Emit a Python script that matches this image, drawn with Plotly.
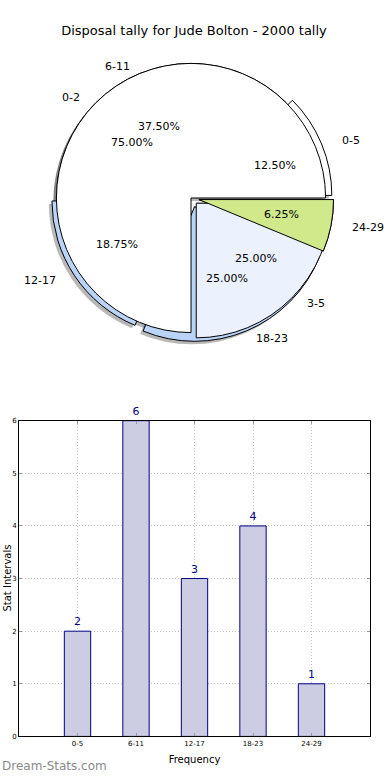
import math
import plotly.graph_objects as go

# ---- data ----
intervals = ["0-5", "6-11", "12-17", "18-23", "24-29"]
counts = [2, 6, 3, 4, 1]
groups = ["0-2", "3-5"]
group_counts = [12, 4]
y_ticks = [0, 1, 2, 3, 4, 5, 6]

title_text = "Disposal tally for Jude Bolton - 2000 tally"

W, H = 390, 780
FONT = "DejaVu Sans"
WHITE = "#ffffff"
BLUE = "#b9d4f7"
LIGHT = "#ebf1fd"
GREEN = "#cfe98b"
CLEAR = "rgba(0,0,0,0)"
SHADOW = "rgba(0,0,0,0.28)"

pull1 = [0.05, 0.0, 0.04, 0.07, 0.06]
pull2 = [0.0, 0.055]

# pie geometry (pixels)
cx, cy, R = 191, 196, 136
text_rx, text_ry = 140, 131   # radii used to place the matplotlib-style texts


def domain_for(pulls, dx=0, dy=0):
    half = R * (1 + max(pulls))
    return dict(x=[(cx + dx - half) / W, (cx + dx + half) / W],
                y=[1 - (cy + dy + half) / H, 1 - (cy + dy - half) / H])


common = dict(sort=False, direction="counterclockwise", showlegend=False,
              hoverinfo="skip", textinfo="none")

fig = go.Figure()

# shadows
fig.add_trace(go.Pie(labels=intervals, values=counts, rotation=45, pull=pull1,
                     domain=domain_for(pull1, -3, 3),
                     marker=dict(colors=[SHADOW] * 5, line=dict(width=0)), **common))
fig.add_trace(go.Pie(labels=groups, values=group_counts, rotation=180, pull=pull2,
                     domain=domain_for(pull2, -3, 3),
                     marker=dict(colors=[SHADOW] * 2, line=dict(width=0)), **common))
# base layer of the 5-interval pie
fig.add_trace(go.Pie(labels=intervals, values=counts, rotation=45, pull=pull1,
                     domain=domain_for(pull1),
                     marker=dict(colors=[WHITE, WHITE, BLUE, BLUE, GREEN],
                                 line=dict(color="#000000", width=1)), **common))
# the 2-group pie on top
fig.add_trace(go.Pie(labels=groups, values=group_counts, rotation=180, pull=pull2,
                     domain=domain_for(pull2),
                     marker=dict(colors=[WHITE, LIGHT],
                                 line=dict(color="#000000", width=1)), **common))
# green slice of the 5-interval pie redrawn on top
fig.add_trace(go.Pie(labels=intervals, values=counts, rotation=45, pull=pull1,
                     domain=domain_for(pull1),
                     marker=dict(colors=[CLEAR, CLEAR, CLEAR, CLEAR, GREEN],
                                 line=dict(color=[CLEAR, CLEAR, CLEAR, CLEAR, "#000000"], width=1)),
                     **common))

# matplotlib-style pie texts (labels at 1.1 r, percentages at 0.6 r)
annotations = []


def pie_texts(labels, values, pulls, start_deg=0.0):
    total = float(sum(values))
    cum = 0.0
    for lab, v, p in zip(labels, values, pulls):
        mid = math.radians(start_deg + 360.0 * (cum + v / 2.0) / total)
        cum += v
        ca, sa = math.cos(mid), math.sin(mid)
        ox, oy = p * text_rx * ca, p * text_ry * sa
        # percentage
        px = cx + ox + 0.6 * text_rx * ca
        py = cy - (oy + 0.6 * text_ry * sa)
        annotations.append(dict(text=f"{100.0 * v / total:.2f}%", x=px / W, y=1 - py / H,
                                xref="paper", yref="paper", showarrow=False,
                                xanchor="center", yanchor="middle",
                                font=dict(family=FONT, size=11, color="#000000")))
        # label
        lx = cx + ox + 1.1 * text_rx * ca
        ly = cy - (oy + 1.1 * text_ry * sa)
        annotations.append(dict(text=lab, x=lx / W, y=1 - ly / H,
                                xref="paper", yref="paper", showarrow=False,
                                xanchor="left" if ca > 0 else "right", yanchor="middle",
                                font=dict(family=FONT, size=11, color="#000000")))


pie_texts(intervals, counts, pull1)
pie_texts(groups, group_counts, pull2)

# bar chart
fig.add_trace(go.Bar(x=intervals, y=counts, width=0.45,
                     marker=dict(color="#ccccE2", line=dict(color="#000088", width=1)),
                     text=counts, textposition="outside", cliponaxis=False,
                     textfont=dict(family=FONT, size=11, color="#000088"),
                     showlegend=False, hoverinfo="skip"))

axis_common = dict(showline=True, linecolor="#000000", linewidth=1, mirror="allticks",
                   ticks="inside", ticklen=3, tickcolor="#999999",
                   showgrid=True, gridcolor="#c4c4c4", griddash="1px,2px", gridwidth=1,
                   zeroline=False, layer="above traces",
                   tickfont=dict(family=FONT, size=7, color="#000000"))

annotations += [
    dict(text="Stat Intervals", x=0, y=1 - 580 / H, xref="paper", yref="paper",
         textangle=-90, showarrow=False, xanchor="left", yanchor="middle",
         font=dict(family=FONT, size=10, color="#000000")),
    dict(text="Dream-Stats.com", x=0, y=1 - 770 / H, xref="paper", yref="paper",
         showarrow=False, xanchor="left", yanchor="middle",
         font=dict(family=FONT, size=12, color="#8a8a8a")),
]

fig.update_layout(
    width=W, height=H,
    margin=dict(l=0, r=0, t=0, b=0),
    paper_bgcolor="#ffffff", plot_bgcolor="#ffffff",
    font=dict(family=FONT, color="#000000"),
    title=dict(text=title_text, x=194 / W, xanchor="center", y=1 - 30 / H, yanchor="middle",
               font=dict(family=FONT, size=13, color="#000000")),
    xaxis=dict(domain=[19 / W, 370 / W], range=[-1, 5], type="category",
               title=dict(text="Frequency", font=dict(family=FONT, size=10), standoff=9),
               **axis_common),
    yaxis=dict(domain=[1 - 740 / H, 1 - 421 / H], range=[0, 6], tickvals=y_ticks,
               **axis_common),
    annotations=annotations,
)

fig.write_html("out.html", config={"displayModeBar": False},
               post_script="document.body.style.margin='0';document.body.style.padding='0';")
